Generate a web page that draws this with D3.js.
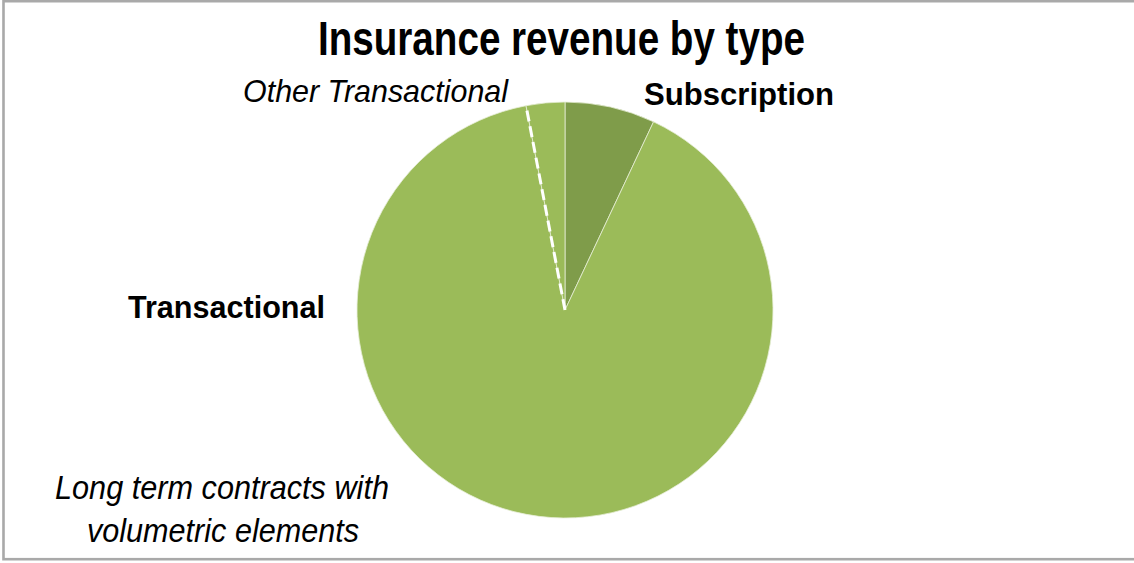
<!DOCTYPE html>
<html>
<head>
<meta charset="utf-8">
<script src="https://cdn.jsdelivr.net/npm/d3@7"></script>
<style>
  html, body { margin: 0; padding: 0; background: #fff; }
  svg { display: block; }
  .narrow { font-family: "Liberation Sans Narrow", "Arial Narrow", "Liberation Sans", Arial, sans-serif; }
</style>
</head>
<body>
<svg id="chart" width="1134" height="563"></svg>
<script>
// Revenue split by contract type (percent of insurance revenue)
const categories = ["Subscription", "Long term contracts with volumetric elements", "Other Transactional"];
const values = [7, 90, 3];
const sliceColors = ["#7f9c4a", "#9bbb59", "#9bbb59"];

const svg = d3.select("#chart");
const W = 1134, H = 563;

// frame
svg.append("rect")
  .attr("x", 3.5).attr("y", 1.2)
  .attr("width", W + 10).attr("height", 558)
  .attr("fill", "#fff")
  .attr("stroke", "#a9a9a9").attr("stroke-width", 2.6);

// title
svg.append("text")
  .attr("class", "narrow")
  .attr("x", 318).attr("y", 55)
  .attr("font-size", 49).attr("font-weight", "bold")
  .attr("textLength", 487).attr("lengthAdjust", "spacingAndGlyphs")
  .text("Insurance revenue by type");

// pie
const cx = 565, cy = 310, r = 208;
const pie = d3.pie().sort(null).value(d => d.value);
const arcs = pie(categories.map((c, i) => ({ name: c, value: values[i], color: sliceColors[i] })));
const arc = d3.arc().innerRadius(0).outerRadius(r);

const g = svg.append("g").attr("transform", `translate(${cx},${cy})`);
g.selectAll("path.slice")
  .data(arcs)
  .join("path")
  .attr("class", "slice")
  .attr("d", arc)
  .attr("fill", d => d.data.color)
  .attr("stroke", "#e6eed6")
  .attr("stroke-width", 0.8);

// dashed divider marking the start of the "Other Transactional" slice
const other = arcs[2];
g.append("line")
  .attr("x1", 0).attr("y1", 0)
  .attr("x2", r * Math.sin(other.startAngle))
  .attr("y2", -r * Math.cos(other.startAngle))
  .attr("stroke", "#fff")
  .attr("stroke-width", 3)
  .attr("stroke-dasharray", "11,5");

// labels
const labels = [
  { text: "Other Transactional", x: 243, y: 102, w: 265, size: 32, weight: "normal", style: "italic" },
  { text: "Subscription", x: 644, y: 105, w: 190, size: 32, weight: "bold", style: "normal" },
  { text: "Transactional", x: 128, y: 318, w: 197, size: 32, weight: "bold", style: "normal" },
  { text: "Long term contracts with", x: 55, y: 499, w: 334, size: 34, weight: "normal", style: "italic" },
  { text: "volumetric elements", x: 87, y: 542, w: 272, size: 34, weight: "normal", style: "italic" }
];
svg.selectAll("text.lbl")
  .data(labels)
  .join("text")
  .attr("class", "lbl narrow")
  .attr("x", d => d.x).attr("y", d => d.y)
  .attr("font-size", d => d.size)
  .attr("font-weight", d => d.weight)
  .attr("font-style", d => d.style)
  .attr("textLength", d => d.w)
  .attr("lengthAdjust", "spacingAndGlyphs")
  .attr("fill", "#000")
  .text(d => d.text);
</script>
</body>
</html>
